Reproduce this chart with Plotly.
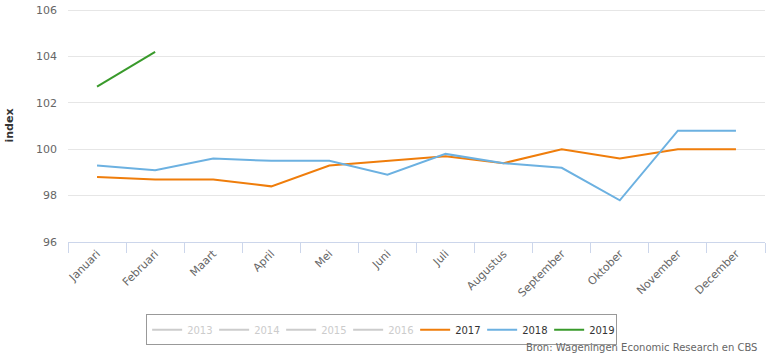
import plotly.graph_objects as go

months = ["Januari", "Februari", "Maart", "April", "Mei", "Juni", "Juli",
          "Augustus", "September", "Oktober", "November", "December"]
y2017 = [98.8, 98.7, 98.7, 98.4, 99.3, 99.5, 99.7, 99.4, 100.0, 99.6, 100.0, 100.0]
y2018 = [99.3, 99.1, 99.6, 99.5, 99.5, 98.9, 99.8, 99.4, 99.2, 97.8, 100.8, 100.8]
y2019 = [102.7, 104.2]
hidden_years = ["2013", "2014", "2015", "2016"]
ytick_vals = [96, 98, 100, 102, 104, 106]

fig = go.Figure()
for yr in hidden_years:
    fig.add_trace(go.Scatter(x=[months[0]], y=[None], name="<span style='color:#cccccc'>" + yr + "</span>",
                             mode="lines", line=dict(color="#cccccc", width=2)))
fig.add_trace(go.Scatter(x=months, y=y2017, name="2017", mode="lines",
                         line=dict(color="#ef7d0b", width=2)))
fig.add_trace(go.Scatter(x=months, y=y2018, name="2018", mode="lines",
                         line=dict(color="#6cb1e1", width=2)))
fig.add_trace(go.Scatter(x=months[:len(y2019)], y=y2019, name="2019", mode="lines",
                         line=dict(color="#399a2b", width=2)))

fig.update_layout(
    width=766, height=356,
    margin=dict(l=68, r=1, t=9, b=114, autoexpand=False),
    paper_bgcolor="white", plot_bgcolor="white",
    font=dict(family="DejaVu Sans, Verdana, sans-serif", color="#666666"),
    showlegend=True,
    legend=dict(orientation="h", x=0.45, xanchor="center", y=-0.31, yanchor="top",
                bordercolor="#999999", borderwidth=1, font=dict(size=10, color="#333333"),
                itemwidth=30, tracegroupgap=0, entrywidth=22, entrywidthmode="pixels"),
    xaxis=dict(type="category", range=[-0.5, 11.5], tickson="boundaries", automargin=False,
               ticks="outside", ticklen=10, tickcolor="#ccd6eb", showline=True,
               linecolor="#ccd6eb", linewidth=1, showgrid=False, tickangle=-45,
               tickfont=dict(size=11, color="#666666")),
    yaxis=dict(range=[96, 106.05], tickvals=ytick_vals, showgrid=True, gridcolor="#e6e6e6",
               zeroline=False, showline=False, automargin=False, ticklabelstandoff=10,
               ticklabeloverflow="allow",
               tickfont=dict(size=11, color="#666666"),
               title=dict(text="<b>index</b>", font=dict(size=11, color="#333333"), standoff=20)),
    annotations=[dict(text="Bron: Wageningen Economic Research en CBS", xref="paper", yref="paper",
                      x=1, y=-0.4526, xanchor="right", yanchor="middle", showarrow=False,
                      xshift=-6, font=dict(size=10, color="#666666"))],
)

# remove the default page margin so the figure fills the window exactly
fig.write_html("out.html", config={"displayModeBar": False},
               post_script="document.body.style.margin='0';document.body.style.overflow='hidden';")
